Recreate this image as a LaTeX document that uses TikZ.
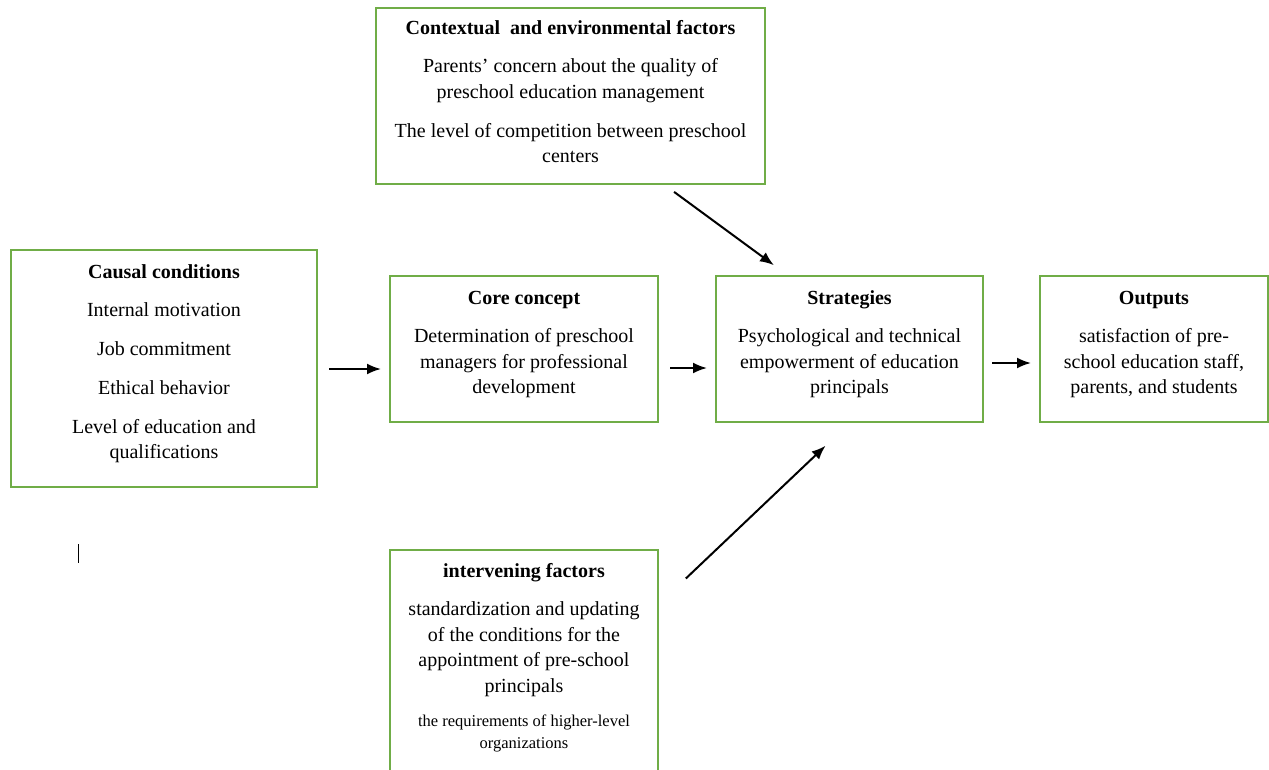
\documentclass[tikz,border=0pt]{standalone}
\usepackage{fontspec}
\setmainfont{Liberation Serif}
\usetikzlibrary{arrows.meta}
\definecolor{boxgreen}{RGB}{112,173,71}
% box text: width, height, first baseline, content
\newcommand{\boxbody}[4]{\parbox[c][#2][t]{#1}{\parskip=0pt\centering\rule{0pt}{#3}#4\par}}

\begin{document}
\begin{tikzpicture}[x=1pt,y=-1pt]
        \tikzstyle{every node} = [rectangle, inner sep=0pt, anchor=north west]
        \tikzstyle{frame} = [draw=boxgreen, line width=2pt, font=\fontsize{20}{25.5}\selectfont]
        \tikzstyle{arr} = [-{Latex[length=14pt,width=11pt]}, line width=2pt]
        \clip (0,0) rectangle (1269,769);

        \node[frame] (ctx) at (375,7) {\boxbody{389pt}{176pt}{26pt}{\textbf{Contextual~ and environmental factors}\\[13.3pt]
            Parents' concern about the quality of\\ preschool education management\\[13.3pt]
            The level of competition between preschool\\ centers}};
        \node[frame] (causal) at (10,249) {\boxbody{306pt}{237pt}{28pt}{\textbf{Causal conditions}\\[13.3pt]
            Internal motivation\\[13.3pt] Job commitment\\[13.3pt] Ethical behavior\\[13.3pt]
            Level of education and\\ qualifications}};
        \node[frame] (core) at (389,275) {\boxbody{268pt}{146pt}{28pt}{\textbf{Core concept}\\[13.3pt]
            Determination of preschool\\ managers for professional\\ development}};
        \node[frame] (strat) at (715,275) {\boxbody{267pt}{146pt}{28pt}{\textbf{Strategies}\\[13.3pt]
            Psychological and technical\\ empowerment of education\\ principals}};
        \node[frame] (out) at (1039,275) {\boxbody{228pt}{146pt}{28pt}{\textbf{Outputs}\\[13.3pt]
            satisfaction of pre-\\ school education staff,\\ parents, and students}};
        \node[frame] (interv) at (389,549) {\boxbody{268pt}{240pt}{27pt}{\textbf{intervening factors}\\[13.3pt]
            standardization and updating\\ of the conditions for the\\ appointment of pre-school\\ principals\par
            \vspace{12pt}\fontsize{16.5}{22}\selectfont the requirements of higher-level\\ organizations}};

        \draw[arr, shorten <=11pt, shorten >=8pt] ([yshift=-0.5pt]causal.east) -- ([yshift=-0.5pt]causal.east -| core.west);
        \draw[arr, shorten <=11pt, shorten >=8pt] ([yshift=-19pt]core.east) -- ([yshift=-19pt]strat.west);
        \draw[arr, shorten <=8pt, shorten >=8pt] ([yshift=-14pt]strat.east) -- ([yshift=-14pt]out.west);
        \draw[arr, shorten <=11.6pt, shorten >=16.6pt] ([xshift=94.2pt]ctx.south) -- ([xshift=-62.2pt]strat.north);
        \draw[arr, shorten <=37pt, shorten >=33pt] ([yshift=-55pt]interv.north east) -- (strat.south);

        \draw[line width=1pt] (78,544) -- (78,563);
\end{tikzpicture}
\end{document}
